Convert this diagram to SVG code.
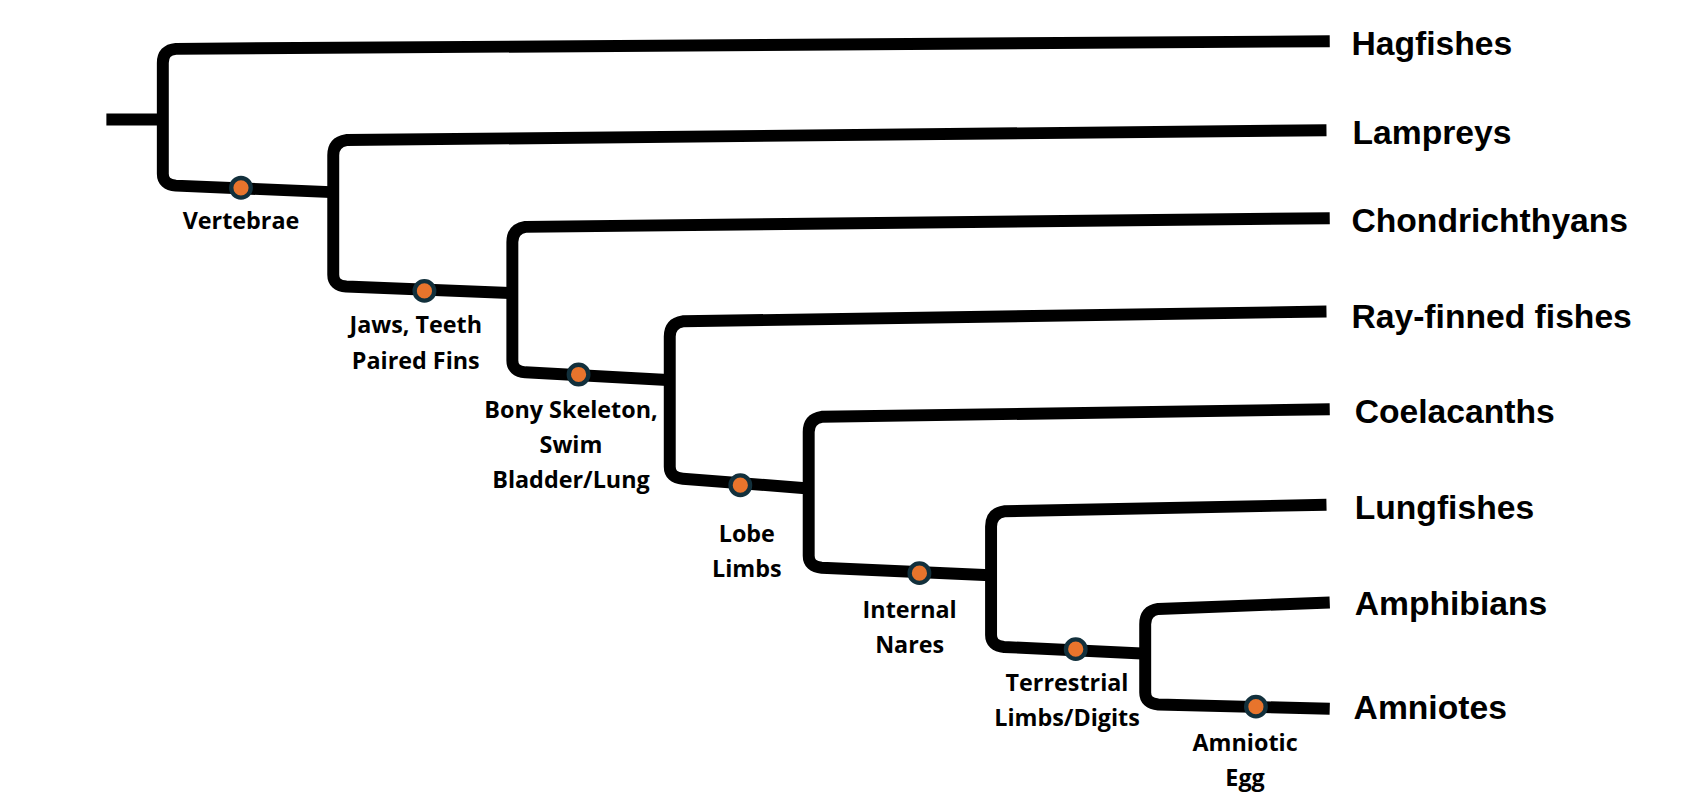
<svg xmlns="http://www.w3.org/2000/svg" width="1702" height="796" viewBox="0 0 1702 796">
<style>
.br{fill:none;stroke:#000;stroke-width:11;stroke-linejoin:round}
.dot{fill:#e8742c;stroke:#12303c;stroke-width:4}
.sp{font-family:"Liberation Sans",Arial,sans-serif;font-weight:bold;font-size:31px;fill:#000}
.lb{font-family:"Open Sans","Liberation Sans",sans-serif;font-weight:700;font-size:21.5px;fill:#000;text-anchor:middle}
</style>
<rect width="1702" height="796" fill="#fff"/>
<g transform="scale(1.0855)">
<g id="connectors">
<path class="br" d="M98,110 H150"/>
<path class="br" d="M1225,38 L162,45 Q150,46 150,58 L150,160 Q150,170 162,171 L305,177"/>
<path class="br" d="M1222,120 L319,129 Q307,131 307,143 L307,253 Q307,263 319,264 L470,270"/>
<path class="br" d="M1225,201 L484,209 Q472,211 472,223 L472,332 Q472,342 484,343 L615,350"/>
<path class="br" d="M1222,287 L629,296 Q617,298 617,310 L617,430 Q617,440 629,441 L745,450"/>
<path class="br" d="M1225,377 L757,384 Q745,386 745,398 L745,512 Q745,522 757,523 L912,530"/>
<path class="br" d="M1222,465 L925,471 Q913,473 913,485 L913,585 Q913,595 925,596 L1052,602"/>
<path class="br" d="M1225,555 L1067,561 Q1055,563 1055,575 L1055,638 Q1055,648 1067,649 L1225,653"/>
</g>
<g id="n-vertebrae"><circle class="dot" cx="222" cy="173" r="9"/><text class="lb" x="222" y="211">Vertebrae</text></g>
<g id="n-jaws"><circle class="dot" cx="391" cy="268" r="9"/><text class="lb" x="383" y="307">Jaws, Teeth</text><text class="lb" x="383" y="340">Paired Fins</text></g>
<g id="n-bony"><circle class="dot" cx="533" cy="345" r="9"/><text class="lb" x="526" y="385">Bony Skeleton,</text><text class="lb" x="526" y="417">Swim</text><text class="lb" x="526" y="450">Bladder/Lung</text></g>
<g id="n-lobe"><circle class="dot" cx="682" cy="447" r="9"/><text class="lb" x="688" y="499">Lobe</text><text class="lb" x="688" y="532">Limbs</text></g>
<g id="n-nares"><circle class="dot" cx="847" cy="528" r="9"/><text class="lb" x="838" y="569">Internal</text><text class="lb" x="838" y="602">Nares</text></g>
<g id="n-terrestrial"><circle class="dot" cx="991" cy="598" r="9"/><text class="lb" x="983" y="637">Terrestrial</text><text class="lb" x="983" y="669">Limbs/Digits</text></g>
<g id="n-amniotic"><circle class="dot" cx="1157" cy="651" r="9"/><text class="lb" x="1147" y="692">Amniotic</text><text class="lb" x="1147" y="724">Egg</text></g>
<g id="t-hagfishes"><text class="sp" x="1245" y="51">Hagfishes</text></g>
<g id="t-lampreys"><text class="sp" x="1246" y="133">Lampreys</text></g>
<g id="t-chondrichthyans"><text class="sp" x="1245" y="214">Chondrichthyans</text></g>
<g id="t-rayfinned"><text class="sp" x="1245" y="302">Ray-finned fishes</text></g>
<g id="t-coelacanths"><text class="sp" x="1248" y="390">Coelacanths</text></g>
<g id="t-lungfishes"><text class="sp" x="1248" y="478">Lungfishes</text></g>
<g id="t-amphibians"><text class="sp" x="1248" y="567">Amphibians</text></g>
<g id="t-amniotes"><text class="sp" x="1247" y="662">Amniotes</text></g>
</g>
</svg>
